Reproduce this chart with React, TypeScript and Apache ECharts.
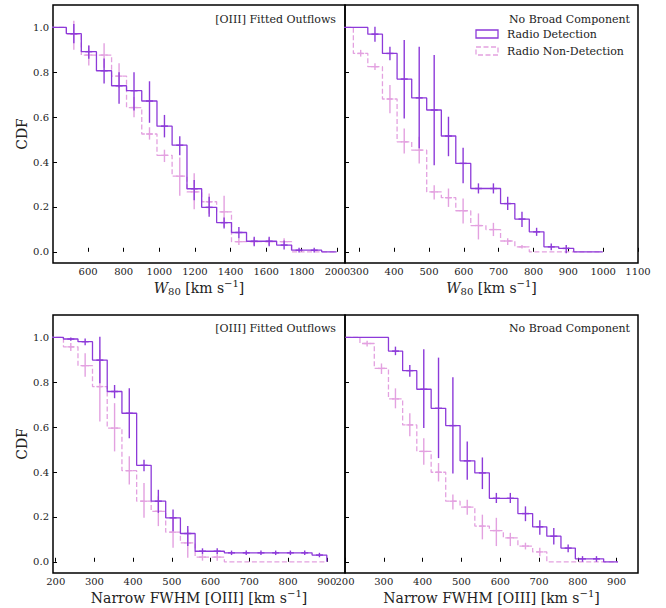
import React, { useEffect, useRef } from "react";
import * as echarts from "echarts";

const FONT = "DejaVu Serif";
const PURPLE = "#8d3ad9";
const PINK = "#e3a1e0";
const TEXT = "#222";

// ---------- Top-left: W80, [OIII] fitted outflows ----------
const tlCenters = [436, 520, 604, 690, 774, 858, 945, 1029, 1115, 1196, 1280, 1364, 1447, 1533, 1617, 1701, 1785, 1870, 1954];
const tlDet = [1.0, 0.972, 0.892, 0.807, 0.74, 0.718, 0.672, 0.56, 0.475, 0.281, 0.198, 0.13, 0.086, 0.047, 0.047, 0.03, 0.007, 0.007, 0.0];
const tlDetLo = [null, 0.93, 0.86, 0.75, 0.66, 0.63, 0.575, 0.51, 0.43, 0.23, 0.156, 0.104, 0.06, 0.025, 0.025, 0.01, -0.003, -0.003, null];
const tlDetHi = [null, 1.015, 0.92, 0.862, 0.8, 0.8, 0.76, 0.61, 0.515, 0.32, 0.245, 0.153, 0.11, 0.067, 0.067, 0.05, 0.018, 0.018, null];
const tlNon = [1.0, 0.97, 0.877, 0.877, 0.783, 0.643, 0.525, 0.43, 0.337, 0.267, 0.223, 0.178, 0.045, 0.045, 0.045, 0.045, 0.0, 0.0, 0.0];
const tlNonLo = [null, 0.9, 0.83, 0.82, 0.73, 0.6, 0.5, 0.4, 0.25, 0.19, 0.17, 0.11, 0.03, 0.03, 0.03, 0.03, null, null, null];
const tlNonHi = [null, 1.03, 0.92, 0.93, 0.84, 0.69, 0.555, 0.455, 0.42, 0.35, 0.26, 0.25, 0.06, 0.06, 0.06, 0.06, null, null, null];

// ---------- Top-right: W80, no broad component ----------
const trCenters = [262, 304, 345, 388, 429, 472, 515, 556, 598, 642, 685, 726, 767, 809, 851, 894, 937, 978];
const trDet = [1.0, 1.0, 0.97, 0.884, 0.77, 0.686, 0.632, 0.516, 0.394, 0.282, 0.282, 0.215, 0.146, 0.089, 0.022, 0.015, 0.0, 0.0];
const trDetLo = [null, null, 0.936, 0.854, 0.594, 0.461, 0.386, 0.426, 0.305, 0.26, 0.26, 0.186, 0.111, 0.071, 0.007, -0.007, null, null];
const trDetHi = [null, null, 1.003, 0.914, 0.944, 0.914, 0.877, 0.602, 0.464, 0.305, 0.305, 0.245, 0.178, 0.107, 0.037, 0.03, null, null];
const trNon = [1.0, 0.884, 0.825, 0.681, 0.49, 0.453, 0.267, 0.241, 0.183, 0.117, 0.099, 0.048, 0.022, 0.0, 0.0, 0.0, 0.0, 0.0];
const trNonLo = [null, 0.87, 0.81, 0.617, 0.438, 0.394, 0.233, 0.2, 0.126, 0.055, 0.07, 0.03, 0.015, null, null, null, null, null];
const trNonHi = [null, 0.9, 0.84, 0.743, 0.55, 0.513, 0.297, 0.282, 0.238, 0.171, 0.129, 0.06, 0.03, null, null, null, null, null];

// ---------- Bottom-left: narrow FWHM, [OIII] fitted outflows ----------
const blCenters = [201, 239, 276, 314, 352, 390, 428, 465, 503, 541, 579, 617, 654, 692, 730, 768, 806, 843, 881];
const blDet = [1.0, 0.993, 0.981, 0.899, 0.759, 0.662, 0.43, 0.27, 0.196, 0.126, 0.047, 0.047, 0.04, 0.04, 0.04, 0.04, 0.04, 0.04, 0.03];
const blDetLo = [null, 0.985, 0.965, 0.796, 0.729, 0.551, 0.403, 0.218, 0.136, 0.07, 0.035, 0.035, 0.03, 0.03, 0.03, 0.03, 0.03, 0.03, 0.02];
const blDetHi = [null, 1.0, 0.995, 1.003, 0.788, 0.773, 0.455, 0.321, 0.233, 0.159, 0.06, 0.06, 0.05, 0.05, 0.05, 0.05, 0.05, 0.05, 0.04];
const blNon = [1.0, 0.958, 0.874, 0.781, 0.596, 0.406, 0.27, 0.225, 0.132, 0.084, 0.021, 0.021, 0.0, 0.0, 0.0, 0.0, 0.0, 0.0, 0.0];
const blNonLo = [null, 0.94, 0.825, 0.625, 0.492, 0.344, 0.196, 0.159, 0.062, 0.018, 0.005, 0.005, null, null, null, null, null, null, null];
const blNonHi = [null, 0.975, 0.929, 0.944, 0.707, 0.47, 0.351, 0.292, 0.196, 0.144, 0.037, 0.037, null, null, null, null, null, null, null];

// ---------- Bottom-right: narrow FWHM, no broad component ----------
const brCenters = [220, 257, 294, 330, 367, 403, 441, 478, 515, 554, 590, 626, 665, 702, 738, 775, 812, 848, 885];
const brDet = [1.0, 1.0, 1.0, 0.939, 0.852, 0.769, 0.684, 0.607, 0.45, 0.396, 0.283, 0.283, 0.215, 0.156, 0.114, 0.061, 0.013, 0.013, 0.0];
const brDetLo = [null, null, null, 0.921, 0.825, 0.596, 0.462, 0.393, 0.366, 0.324, 0.262, 0.262, 0.181, 0.121, 0.077, 0.043, 0.0, 0.0, null];
const brDetHi = [null, null, null, 0.959, 0.877, 0.947, 0.91, 0.822, 0.536, 0.465, 0.307, 0.307, 0.247, 0.185, 0.151, 0.077, 0.025, 0.025, null];
const brNon = [1.0, 0.973, 0.862, 0.726, 0.61, 0.492, 0.399, 0.27, 0.244, 0.159, 0.139, 0.107, 0.07, 0.044, 0.0, 0.0, 0.0, 0.0, 0.0];
const brNonLo = [null, 0.96, 0.837, 0.684, 0.559, 0.433, 0.358, 0.233, 0.21, 0.1, 0.07, 0.07, 0.055, 0.025, null, null, null, null, null];
const brNonHi = [null, 0.985, 0.884, 0.773, 0.662, 0.551, 0.44, 0.3, 0.277, 0.21, 0.196, 0.129, 0.085, 0.063, null, null, null, null, null];

// ---------- axes ----------
const yTicks = [0, 0.2, 0.4, 0.6, 0.8, 1.0];
const yRange = [-0.05, 1.1];
const tlXTicks = [600, 800, 1000, 1200, 1400, 1600, 1800, 2000];
const trXTicks = [300, 400, 500, 600, 700, 800, 900, 1000, 1100];
const blXTicks = [200, 300, 400, 500, 600, 700, 800, 900];
const brXTicks = [200, 300, 400, 500, 600, 700, 800, 900];
const tlXRange = [403, 2043];
const trXRange = [259, 1100];
const blXRange = [193, 947];
const brXRange = [200, 955];

const panelLabelLeft = "[OIII] Fitted Outflows";
const panelLabelRight = "No Broad Component";
const legendDet = "Radio Detection";
const legendNon = "Radio Non-Detection";

function edges(c: number[]): number[] {
  const e: number[] = [c[0] - (c[1] - c[0]) / 2];
  for (let i = 1; i < c.length; i++) e.push((c[i - 1] + c[i]) / 2);
  const n = c.length;
  e.push(c[n - 1] + (c[n - 1] - c[n - 2]) / 2);
  return e;
}

function stepData(c: number[], v: number[]) {
  const e = edges(c);
  const pts: number[][] = [];
  for (let i = 0; i < v.length; i++) pts.push([e[i], v[i]]);
  pts.push([e[v.length], v[v.length - 1]]);
  pts.push([e[v.length], 0]);
  return pts;
}

function errData(c: number[], v: number[], lo: (number | null)[], hi: (number | null)[]) {
  const out: number[][] = [];
  for (let i = 0; i < c.length; i++) {
    if (lo[i] == null || hi[i] == null) continue;
    out.push([c[i], v[i], lo[i] as number, hi[i] as number]);
  }
  return out;
}

function errSeries(idx: number, data: number[][], color: string, z: number) {
  return {
    type: "custom",
    xAxisIndex: idx,
    yAxisIndex: idx,
    z,
    data,
    encode: { x: 0, y: 1 },
    renderItem: (_p: any, api: any) => {
      const x = api.value(0);
      const y = api.value(1);
      const lo = api.value(2);
      const hi = api.value(3);
      const a = api.coord([x, lo]);
      const b = api.coord([x, hi]);
      const m = api.coord([x, y]);
      const style = { stroke: color, lineWidth: 1.4, fill: "none" };
      return {
        type: "group",
        children: [
          { type: "line", shape: { x1: a[0], y1: a[1], x2: b[0], y2: b[1] }, style },
          { type: "line", shape: { x1: m[0] - 3.5, y1: m[1], x2: m[0] + 3.5, y2: m[1] }, style },
        ],
      };
    },
  };
}

function lineSeries(idx: number, data: number[][], color: string, dashed: boolean, z: number) {
  return {
    type: "line",
    xAxisIndex: idx,
    yAxisIndex: idx,
    step: "end",
    symbol: "none",
    showSymbol: false,
    z,
    data,
    lineStyle: { color, width: 1.3, type: dashed ? [5, 2.5] : "solid" },
  };
}

const w80Name = "{it|W}{sub|80}{n| [km s}{sup|−1}{n|]}";
const fwhmName = "{n|Narrow FWHM [OIII] [km s}{sup|−1}{n|]}";
const nameRich = {
  it: { fontFamily: FONT, fontSize: 14, fontStyle: "italic", color: TEXT, lineHeight: 20 },
  n: { fontFamily: FONT, fontSize: 14, color: TEXT, lineHeight: 20 },
  sub: { fontFamily: FONT, fontSize: 10, color: TEXT, verticalAlign: "bottom", lineHeight: 20, padding: [0, 0, 2, 0] },
  sup: { fontFamily: FONT, fontSize: 10, color: TEXT, verticalAlign: "top", lineHeight: 20 },
};

function xAxis(idx: number, range: number[], ticks: number[], name: string) {
  return {
    type: "value",
    gridIndex: idx,
    min: range[0],
    max: range[1],
    axisLine: { show: false },
    splitLine: { show: false },
    axisTick: { show: true, inside: true, length: 4, lineStyle: { color: "#000", width: 1 }, customValues: ticks },
    axisLabel: {
      customValues: ticks,
      margin: 3,
      fontFamily: FONT,
      fontSize: 10,
      color: TEXT,
      formatter: (v: number) => String(Math.round(v)),
    },
    name,
    nameLocation: "middle",
    nameGap: 15,
    nameTextStyle: { fontFamily: FONT, fontSize: 14, color: TEXT, rich: nameRich },
  };
}

function yAxis(idx: number, showLabels: boolean) {
  return {
    type: "value",
    gridIndex: idx,
    min: yRange[0],
    max: yRange[1],
    axisLine: { show: false },
    splitLine: { show: false },
    axisTick: { show: true, inside: true, length: 4, lineStyle: { color: "#000", width: 1 }, customValues: yTicks },
    axisLabel: {
      show: showLabels,
      customValues: yTicks,
      margin: 4,
      fontFamily: FONT,
      fontSize: 10,
      color: TEXT,
      formatter: (v: number) => v.toFixed(1),
    },
    name: showLabels ? "CDF" : "",
    nameLocation: "middle",
    nameRotate: 90,
    nameGap: 20,
    nameTextStyle: { fontFamily: FONT, fontSize: 14, color: TEXT },
  };
}

function grid(left: number, top: number, width: number, height: number) {
  return { left, top, width, height, show: true, borderColor: "#000", borderWidth: 1.5, backgroundColor: "transparent" };
}

function label(text: string, x: number, y: number, align: string) {
  return {
    type: "text",
    z: 100,
    style: { text, x, y, fill: TEXT, font: `11px "${FONT}"`, align, verticalAlign: "middle" },
  };
}

export default function App() {
  const ref = useRef<HTMLDivElement>(null);
  useEffect(() => {
    if (!ref.current) return;
    const chart = echarts.init(ref.current, undefined, { renderer: "svg" });
    const option: any = {
      animation: false,
      backgroundColor: "#fff",
      grid: [grid(53, 5, 292, 258), grid(345, 5, 293, 258), grid(53, 315, 292, 258), grid(345, 315, 293, 258)],
      xAxis: [
        xAxis(0, tlXRange, tlXTicks, w80Name),
        xAxis(1, trXRange, trXTicks, w80Name),
        xAxis(2, blXRange, blXTicks, fwhmName),
        xAxis(3, brXRange, brXTicks, fwhmName),
      ],
      yAxis: [yAxis(0, true), yAxis(1, false), yAxis(2, true), yAxis(3, false)],
      series: [
        lineSeries(0, stepData(tlCenters, tlNon), PINK, true, 2),
        errSeries(0, errData(tlCenters, tlNon, tlNonLo, tlNonHi), PINK, 3),
        lineSeries(0, stepData(tlCenters, tlDet), PURPLE, false, 4),
        errSeries(0, errData(tlCenters, tlDet, tlDetLo, tlDetHi), PURPLE, 5),

        lineSeries(1, stepData(trCenters, trNon), PINK, true, 2),
        errSeries(1, errData(trCenters, trNon, trNonLo, trNonHi), PINK, 3),
        lineSeries(1, stepData(trCenters, trDet), PURPLE, false, 4),
        errSeries(1, errData(trCenters, trDet, trDetLo, trDetHi), PURPLE, 5),

        lineSeries(2, stepData(blCenters, blNon), PINK, true, 2),
        errSeries(2, errData(blCenters, blNon, blNonLo, blNonHi), PINK, 3),
        lineSeries(2, stepData(blCenters, blDet), PURPLE, false, 4),
        errSeries(2, errData(blCenters, blDet, blDetLo, blDetHi), PURPLE, 5),

        lineSeries(3, stepData(brCenters, brNon), PINK, true, 2),
        errSeries(3, errData(brCenters, brNon, brNonLo, brNonHi), PINK, 3),
        lineSeries(3, stepData(brCenters, brDet), PURPLE, false, 4),
        errSeries(3, errData(brCenters, brDet, brDetLo, brDetHi), PURPLE, 5),
      ],
      graphic: [
        label(panelLabelLeft, 336, 19, "right"),
        label(panelLabelLeft, 336, 328, "right"),
        label(panelLabelRight, 630, 19, "right"),
        label(panelLabelRight, 630, 328, "right"),
        {
          type: "rect",
          z: 100,
          shape: { x: 476, y: 30, width: 22, height: 8 },
          style: { fill: "none", stroke: PURPLE, lineWidth: 1.3 },
        },
        {
          type: "rect",
          z: 100,
          shape: { x: 476, y: 47, width: 22, height: 8 },
          style: { fill: "none", stroke: PINK, lineWidth: 1.3, lineDash: [5, 2.5] },
        },
        label(legendDet, 507, 34, "left"),
        label(legendNon, 507, 51, "left"),
      ],
    };
    chart.setOption(option);
    return () => chart.dispose();
  }, []);
  return (
    <div
      ref={ref}
      style={{ position: "absolute", left: 0, top: 0, width: 666, height: 608 }}
    />
  );
}
